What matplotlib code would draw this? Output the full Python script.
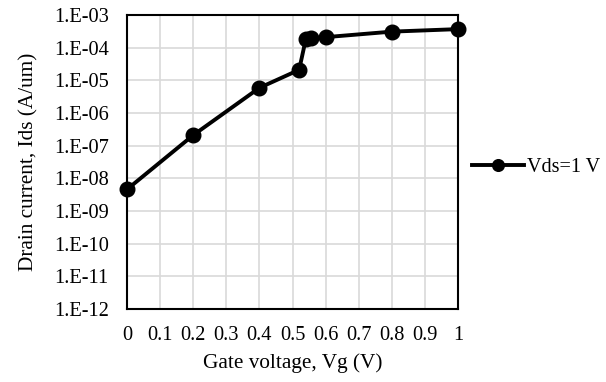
import math
import matplotlib.pyplot as plt
from matplotlib.ticker import FixedLocator, FuncFormatter

plt.rcParams['font.family'] = ['Liberation Serif', 'DejaVu Serif']

vg = [0.0, 0.2, 0.4, 0.52, 0.54, 0.555, 0.6, 0.8, 1.0]
ids = [4.6e-9, 2.1e-7, 5.9e-6, 2.1e-5, 1.8e-4, 1.95e-4, 2.1e-4, 3.1e-4, 3.7e-4]
series_label = 'Vds=1 V'

fig = plt.figure(figsize=(6.06, 3.82), dpi=100)
ax = fig.add_axes([0.2096, 0.191, 0.5462, 0.7697])

ax.plot(vg, ids, color='black', lw=2.8, marker='o', ms=10.5, label=series_label,
        clip_on=False, zorder=3)

ax.set_yscale('log')
ax.set_ylim(1e-12, 1e-3)
ax.set_xlim(0, 1)
ax.yaxis.set_major_locator(FixedLocator([10.0**k for k in range(-12, -2)]))
ax.yaxis.set_minor_locator(FixedLocator([]))
ax.yaxis.set_major_formatter(FuncFormatter(lambda v, p: '1.E%03d' % round(math.log10(v))))
xt = [i / 10 for i in range(11)]
ax.set_xticks(xt)
ax.set_xticklabels(['0' if v == 0 else ('1' if v == 1 else f'{v:.1f}') for v in xt])

ax.grid(True, color='#d9d9d9', lw=1.2)
ax.set_axisbelow(True)
for s in ax.spines.values():
    s.set_linewidth(1.5)
    s.set_zorder(2.5)
ax.tick_params(length=0, labelsize=14.7)
ax.tick_params(axis='x', pad=12)
ax.tick_params(axis='y', pad=13)

ax.set_xlabel('Gate voltage, Vg (V)', fontsize=15.3, labelpad=6)
ax.set_ylabel('Drain current, Ids (A/um)', fontsize=15.3, labelpad=11)

ax.legend(loc='center left', bbox_to_anchor=(1.0, 0.48), frameon=False,
          fontsize=14.5, handlelength=2.6, handletextpad=0.15, borderaxespad=0.3,
          markerscale=0.8)

fig.savefig('out.png', dpi=100)
